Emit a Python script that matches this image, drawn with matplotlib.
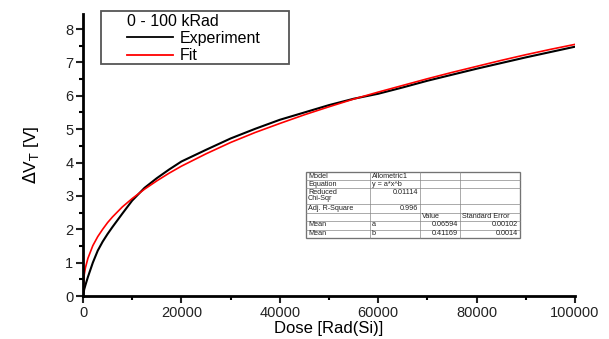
import numpy as np
import matplotlib
matplotlib.use("Agg")
import matplotlib.pyplot as plt
from matplotlib.ticker import MultipleLocator

plt.rcParams.update({"font.family": ["Liberation Sans", "DejaVu Sans"]})

# values
dose = [0, 250, 500, 1000, 2000, 3000, 4000, 5000, 6000, 8000, 10000, 12500,
        15000, 17500, 20000, 25000, 30000, 35000, 40000, 45000, 50000, 55000,
        60000, 65000, 70000, 75000, 80000, 85000, 90000, 95000, 100000]
experiment = [0.0, 0.20, 0.33, 0.57, 1.00, 1.36, 1.63, 1.86, 2.07, 2.47, 2.86, 3.24,
              3.53, 3.79, 4.03, 4.38, 4.72, 5.01, 5.28, 5.50, 5.72, 5.91,
              6.06, 6.25, 6.45, 6.63, 6.81, 6.98, 7.15, 7.31, 7.47]
fit = [0.0, 0.64, 0.85, 1.13, 1.51, 1.78, 2.00, 2.20, 2.37, 2.67, 2.92, 3.20,
       3.45, 3.68, 3.89, 4.26, 4.60, 4.90, 5.17, 5.43, 5.67, 5.90,
       6.11, 6.31, 6.51, 6.70, 6.88, 7.06, 7.23, 7.39, 7.54]

table_rows = [
    ["Model", "Allometric1", "", ""],
    ["Equation", "y = a*x^b", "", ""],
    ["Reduced\nChi-Sqr", "0.01114", "", ""],
    ["Adj. R-Square", "0.996", "", ""],
    ["", "", "Value", "Standard Error"],
    ["Mean", "a", "0.06594", "0.00102"],
    ["Mean", "b", "0.41169", "0.0014"],
]

W, H = 609, 339


def fx(x):
    return x / W


def fy(y):
    return 1 - y / H


fig = plt.figure(figsize=(W / 100, H / 100), dpi=100)
ax = fig.add_axes([83 / W, 1 - 296 / H, (575 - 83) / W, (296 - 14) / H])

ax.plot(dose, experiment, color="black", lw=1.5, label="Experiment")
ax.plot(dose, fit, color="red", lw=1.2, label="Fit")

ax.set_xlim(0, 100000)
ax.set_ylim(0, 8.45)
ax.xaxis.set_major_locator(MultipleLocator(20000))
ax.xaxis.set_minor_locator(MultipleLocator(10000))
ax.yaxis.set_major_locator(MultipleLocator(1))
ax.yaxis.set_minor_locator(MultipleLocator(0.5))
for s in ["top", "right"]:
    ax.spines[s].set_visible(False)
for s in ["left", "bottom"]:
    ax.spines[s].set_linewidth(2)
ax.tick_params(which="major", length=5, width=1.5, labelsize=10.5, colors="#222222", pad=2)
ax.tick_params(which="minor", length=3, width=1.5)
ax.set_xlabel("Dose [Rad(Si)]", fontsize=12, labelpad=1)
ax.set_ylabel(r"$\Delta$V$_\mathrm{T}$ [V]", fontsize=12.5, labelpad=17)

# legend: box drawn separately, entries placed inside it
fig.add_artist(plt.Rectangle((fx(101), fy(64)), fx(289) - fx(101), fy(11) - fy(64),
                             fill=False, ec="#555555", lw=1.3))
leg = ax.legend(title="0 - 100 kRad", loc="upper left", bbox_to_anchor=(fx(125), fy(12)),
                bbox_transform=fig.transFigure, fontsize=11.5, title_fontsize=11.5,
                frameon=False, handlelength=2.9, handletextpad=0.4, borderpad=0.1,
                labelspacing=0.15, alignment="left", borderaxespad=0)
for line in leg.get_lines():
    line.set_linewidth(1.3)

# fit results table (pixel coordinates of the reference)
col_x = [306, 370, 420, 460, 520]
row_y = [172, 180, 188, 204, 212.5, 220.5, 229.5, 237.5]

for y in row_y:
    fig.add_artist(plt.Line2D([fx(col_x[0]), fx(col_x[-1])], [fy(y), fy(y)],
                              color="#888888", lw=0.5))
for x in col_x:
    fig.add_artist(plt.Line2D([fx(x), fx(x)], [fy(row_y[0]), fy(row_y[-1])],
                              color="#888888", lw=0.5))
fig.add_artist(plt.Rectangle((fx(col_x[0]), fy(row_y[-1])), fx(col_x[-1]) - fx(col_x[0]),
                             fy(row_y[0]) - fy(row_y[-1]), fill=False, ec="#444444", lw=0.9))

for r, row in enumerate(table_rows):
    y0, y1 = row_y[r], row_y[r + 1]
    for c, txt in enumerate(row):
        if not txt:
            continue
        if txt[0].isdigit():
            x, ha = col_x[c + 1] - 2, "right"
        else:
            x, ha = col_x[c] + 2, "left"
        if r == 2:
            ty, va = y0 + 0.5, "top"
        else:
            ty, va = (y0 + y1) / 2, "center"
        fig.text(fx(x), fy(ty), txt, fontsize=5.2, ha=ha, va=va, color="#222222",
                 linespacing=0.85)

fig.savefig("out.png", dpi=100)
